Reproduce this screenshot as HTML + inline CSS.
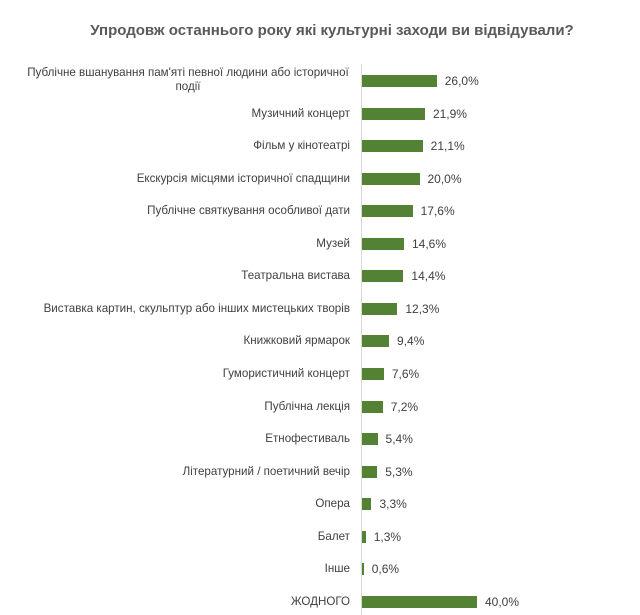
<!DOCTYPE html><html><head><meta charset="utf-8"><style>
body{margin:0;width:640px;height:615px;background:#fff;font-family:"Liberation Sans",sans-serif;position:relative;overflow:hidden}
.t{position:absolute;left:0;width:664px;top:22px;text-align:center;font-weight:bold;font-size:15px;color:#595959}
.ax{position:absolute;left:361px;top:64px;width:1px;height:551px;background:#d9d9d9}
.l{position:absolute;right:290px;font-size:11.6px;color:#404040;text-align:right;line-height:14px;width:360px}
.b{position:absolute;left:362px;height:12px;background:#548235}
.v{position:absolute;font-size:12px;color:#404040;line-height:14px}
</style></head><body>
<div class="t">Упродовж останнього року які культурні заходи ви відвідували?</div>
<div class="ax"></div>
<div id="c"></div>
<script>
var d=[["Публічне вшанування пам'яті певної людини або історичної<br>події",26.0],["Музичний концерт",21.9],["Фільм у кінотеатрі",21.1],["Екскурсія місцями історичної спадщини",20.0],["Публічне святкування особливої дати",17.6],["Музей",14.6],["Театральна вистава",14.4],["Виставка картин, скульптур або інших мистецьких творів",12.3],["Книжковий ярмарок",9.4],["Гумористичний концерт",7.6],["Публічна лекція",7.2],["Етнофестиваль",5.4],["Літературний / поетичний вечір",5.3],["Опера",3.3],["Балет",1.3],["Інше",0.6],["ЖОДНОГО",40.0]];
var h="";d.forEach(function(r,i){var y=81+i*32.55;var w=r[1]*2.875;
if(i==0)h+='<div class="l" style="top:'+(y-15)+'px;text-align:center;width:340px;right:282px">'+r[0]+'</div>';
else h+='<div class="l" style="top:'+(y-7)+'px">'+r[0]+'</div>';
h+='<div class="b" style="top:'+(y-6)+'px;width:'+w+'px"></div>';
h+='<div class="v" style="top:'+(y-7)+'px;left:'+(362+w+8)+'px">'+r[1].toFixed(1).replace('.',',')+'%</div>';});
document.getElementById('c').innerHTML=h;
</script>
</body></html>
